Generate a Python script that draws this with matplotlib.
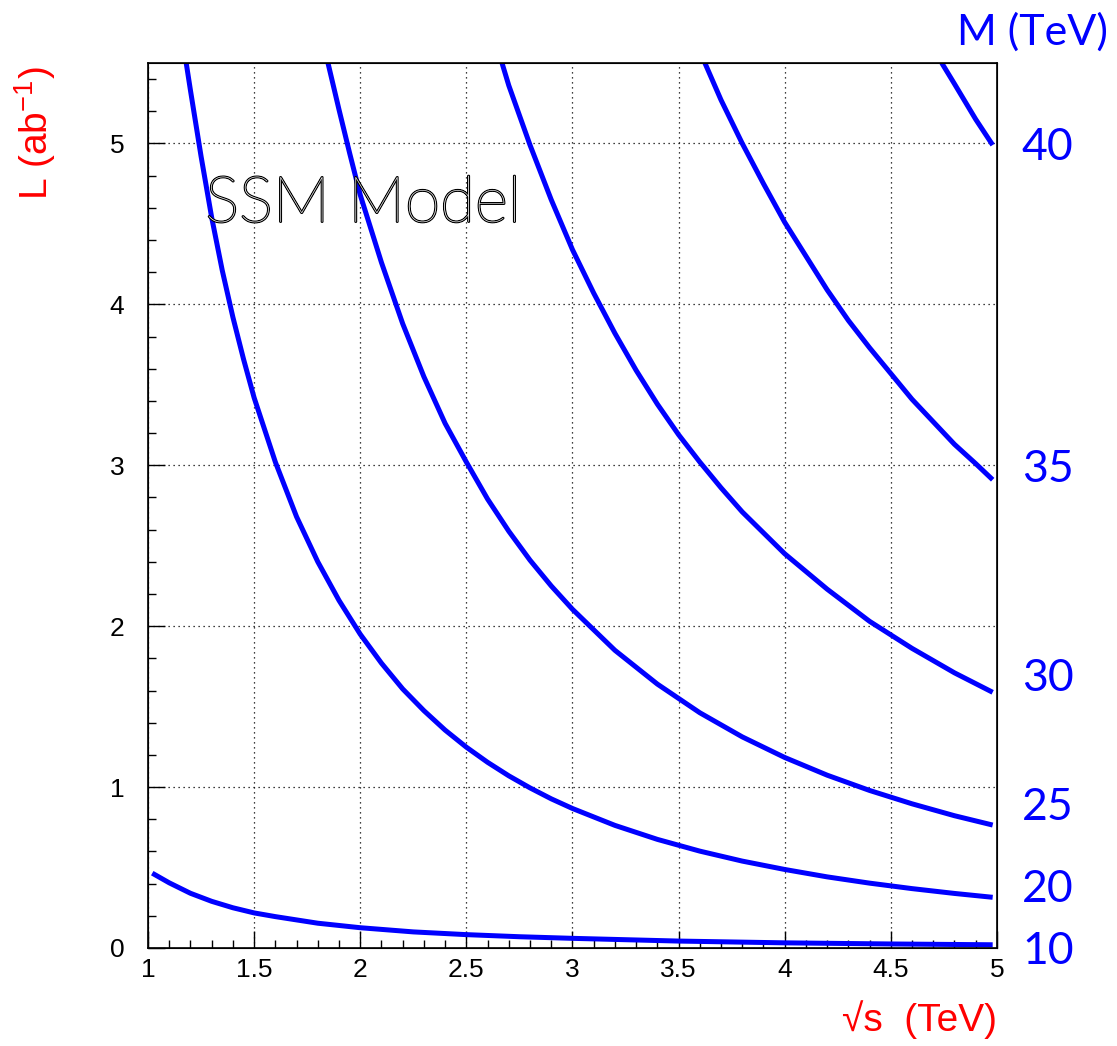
import matplotlib
matplotlib.use("Agg")
import matplotlib.pyplot as plt
from matplotlib.ticker import MultipleLocator
import matplotlib.patheffects as pe

# curves: sqrt(s) in TeV, L in ab^-1
x_m10 = [1.02, 1.1, 1.2, 1.3, 1.4, 1.5, 1.6, 1.8, 2.0, 2.25, 2.5, 2.75, 3.0, 3.5, 4.0, 4.5, 4.98]
l_m10 = [0.465, 0.405, 0.34, 0.29, 0.25, 0.218, 0.195, 0.154, 0.126, 0.10, 0.083, 0.07,
         0.06, 0.043, 0.032, 0.025, 0.02]

x_m20 = [1.18, 1.2, 1.25, 1.3, 1.35, 1.4, 1.45, 1.5, 1.6, 1.7, 1.8, 1.9, 2.0, 2.1, 2.2,
         2.3, 2.4, 2.5, 2.6, 2.7, 2.8, 2.9, 3.0, 3.2, 3.4, 3.6, 3.8, 4.0, 4.2, 4.4, 4.6,
         4.8, 4.98]
l_m20 = [5.5, 5.33, 4.92, 4.54, 4.21, 3.92, 3.66, 3.42, 3.02, 2.68, 2.40, 2.16, 1.95,
         1.77, 1.61, 1.475, 1.354, 1.248, 1.154, 1.07, 0.995, 0.927, 0.867, 0.762, 0.675,
         0.602, 0.540, 0.488, 0.442, 0.403, 0.369, 0.339, 0.315]

x_m25 = [1.848, 1.9, 1.95, 2.0, 2.05, 2.1, 2.2, 2.3, 2.4, 2.5, 2.6, 2.7, 2.8, 2.9, 3.0,
         3.2, 3.4, 3.6, 3.8, 4.0, 4.2, 4.4, 4.6, 4.8, 4.98]
l_m25 = [5.5, 5.21, 4.94, 4.68, 4.47, 4.26, 3.88, 3.55, 3.26, 3.02, 2.79, 2.59, 2.41,
         2.25, 2.105, 1.85, 1.64, 1.462, 1.312, 1.184, 1.074, 0.979, 0.896, 0.822, 0.764]

x_m30 = [2.668, 2.7, 2.8, 2.9, 3.0, 3.1, 3.2, 3.3, 3.4, 3.5, 3.6, 3.7, 3.8, 3.9, 4.0,
         4.2, 4.4, 4.6, 4.8, 4.98]
l_m30 = [5.5, 5.36, 4.99, 4.65, 4.34, 4.07, 3.82, 3.59, 3.38, 3.19, 3.02, 2.86, 2.71,
         2.58, 2.45, 2.23, 2.03, 1.862, 1.71, 1.589]

x_m35 = [3.624, 3.7, 3.8, 3.9, 4.0, 4.1, 4.2, 4.3, 4.4, 4.5, 4.6, 4.7, 4.8, 4.9, 4.98]
l_m35 = [5.5, 5.27, 5.0, 4.75, 4.51, 4.30, 4.09, 3.90, 3.73, 3.57, 3.41, 3.27, 3.13,
         3.01, 2.91]

x_m40 = [4.74, 4.8, 4.9, 4.98]
l_m40 = [5.5, 5.37, 5.15, 4.99]

curves = [(x_m10, l_m10), (x_m20, l_m20), (x_m25, l_m25),
          (x_m30, l_m30), (x_m35, l_m35), (x_m40, l_m40)]

# mass labels on the right-hand side and the L value they sit at
mass_labels = ["10", "20", "25", "30", "35", "40"]
mass_label_L = [0.0, 0.39, 0.90, 1.70, 3.0, 5.0]

fig = plt.figure(figsize=(11.17, 10.46), dpi=100)
ax = fig.add_axes([0.1325, 0.0937, 0.76, 0.8461])

for xs, ls in curves:
    ax.plot(xs, ls, color="#0000ff", lw=3.6, solid_capstyle="butt")

ax.set_xlim(1, 5)
ax.set_ylim(0, 5.5)
ax.xaxis.set_major_locator(MultipleLocator(0.5))
ax.xaxis.set_minor_locator(MultipleLocator(0.1))
ax.yaxis.set_major_locator(MultipleLocator(1))
ax.yaxis.set_minor_locator(MultipleLocator(0.2))
ax.set_xticks([1, 1.5, 2, 2.5, 3, 3.5, 4, 4.5, 5])
ax.set_xticklabels(["1", "1.5", "2", "2.5", "3", "3.5", "4", "4.5", "5"])
ax.grid(True, which="major", color="black", linestyle=(0, (1, 3)), lw=0.9)

ax.tick_params(which="both", direction="in", top=False, right=False,
               labelsize=19, width=1)
ax.tick_params(axis="x", which="major", length=12, pad=7)
ax.tick_params(axis="x", which="minor", length=6)
ax.tick_params(axis="y", which="major", length=12, pad=17)
ax.tick_params(axis="y", which="minor", length=6)
for lab in ax.get_xticklabels() + ax.get_yticklabels():
    lab.set_fontfamily(["Liberation Sans", "DejaVu Sans"])
for sp in ax.spines.values():
    sp.set_linewidth(1.2)

# right-hand mass labels
ax2 = ax.twinx()
ax2.set_ylim(ax.get_ylim())
ax2.set_yticks(mass_label_L)
ax2.set_yticklabels(mass_labels)
ax2.tick_params(axis="y", length=0, pad=18, labelsize=32, labelcolor="#0000ff")
for lab in ax2.get_yticklabels():
    lab.set_fontfamily(["Lato", "DejaVu Sans"])

fig.text(1108 / 1117, 1 - 32 / 1046, "M (TeV)", color="#0000ff", fontsize=31,
         family=["Lato", "DejaVu Sans"], ha="right", va="center")

fig.text(35 / 1117, 1 - 133 / 1046, r"L (ab$^{\mathregular{-1}}$)", color="red",
         fontsize=28, family=["Liberation Sans", "DejaVu Sans"], rotation=90,
         ha="center", va="center")
fig.text(997 / 1117, 1 - 1020 / 1046, "\u221as  (TeV)", color="red", fontsize=28,
         family=["Liberation Sans", "DejaVu Sans"], ha="right", va="center")

ax.text(1.27, 4.62, "SSM Model", fontsize=46, color="white",
        family=["Lato", "DejaVu Sans"], fontweight="light", ha="left", va="center",
        path_effects=[pe.withStroke(linewidth=1.6, foreground="black")])

fig.savefig("out.png", dpi=100)
